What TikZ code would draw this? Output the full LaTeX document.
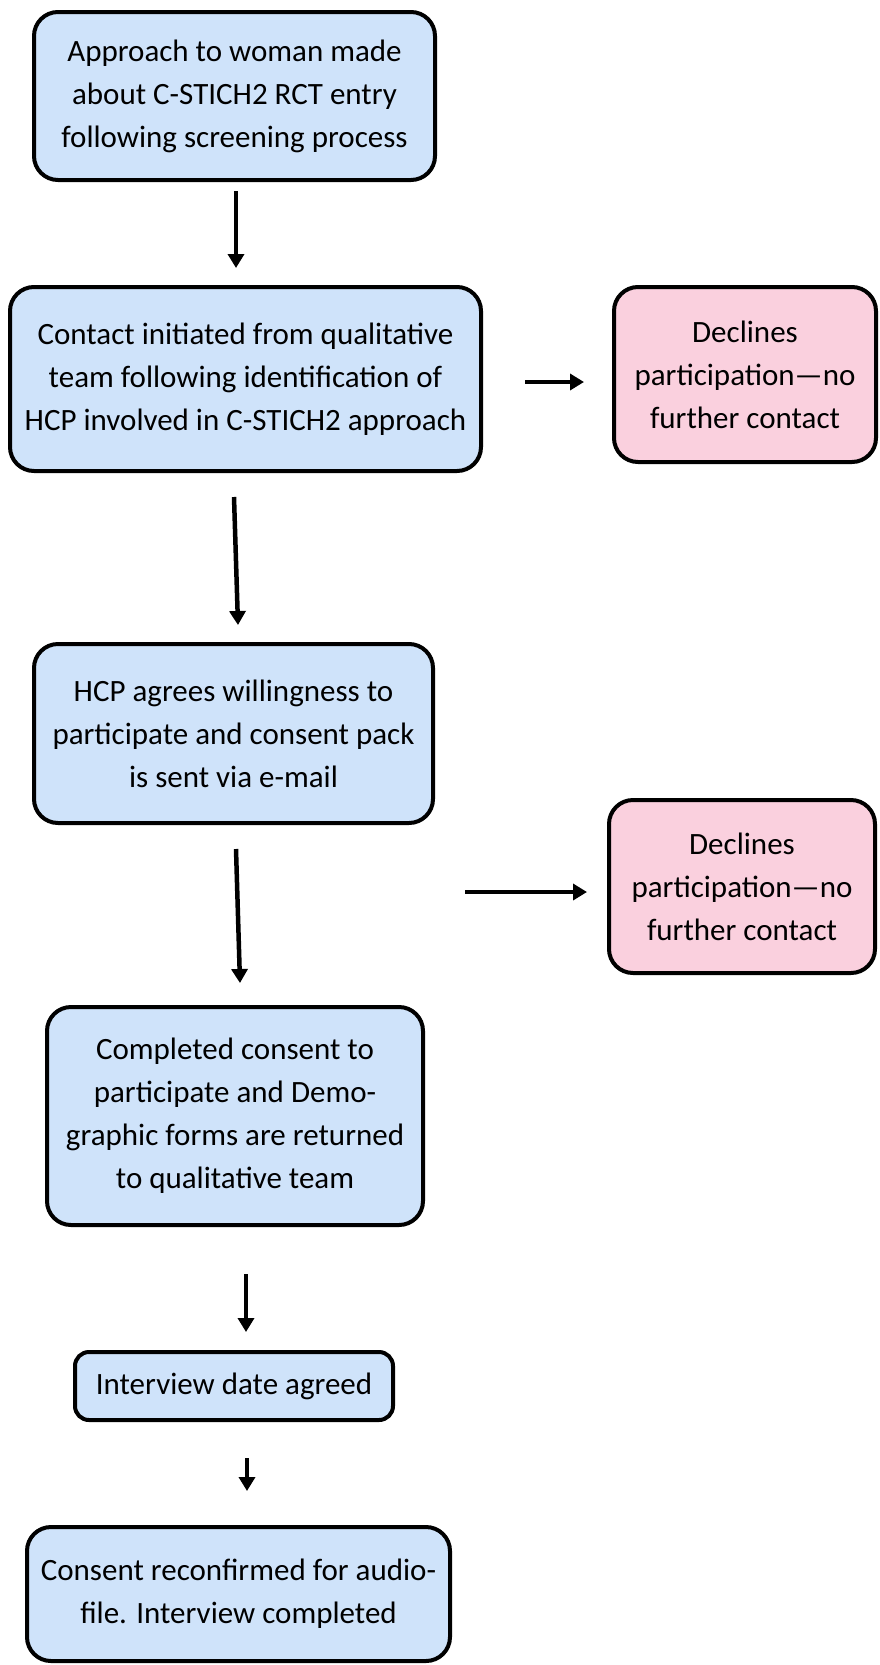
\documentclass[tikz,border=0pt]{standalone}
\usepackage{fontspec}
\setmainfont{Carlito}
\usepackage{tikz}
\usetikzlibrary{arrows.meta}
\definecolor{StepBlue}{RGB}{207,227,250}
\definecolor{DeclinePink}{RGB}{250,208,222}
\tikzset{
  flownode/.style = {align=center, inner sep=0pt, text centered, draw = black, line width=4pt, rounded corners=24pt, font=\fontsize{31}{43}\selectfont},
  StepNode/.style = {flownode, fill = StepBlue},
  DeclineNode/.style = {flownode, fill = DeclinePink},
  flowarrow/.style = {line width=4.5pt, -{Triangle[width=16pt,length=14pt]}}
}
\begin{document}
\begin{tikzpicture}[x=1pt,y=-1pt]
    \useasboundingbox (0,0) rectangle (879,1665);
    % main steps
    \node [StepNode, minimum width=401pt, minimum height=168pt] (approach) at (234.5,96)
        {Approach to woman made\\about C-STICH2 RCT entry\\following screening process};
    \node [StepNode, minimum width=471pt, minimum height=184pt] (contact) at (245.5,379)
        {Contact initiated from qualitative\\team following identification of\\HCP involved in C-STICH2 approach};
    \node [StepNode, minimum width=399pt, minimum height=179pt] (agrees) at (233.5,733.5)
        {HCP agrees willingness to\\participate and consent pack\\is sent via e-mail};
    \node [StepNode, minimum width=376pt, minimum height=218pt] (returned) at (235,1116)
        {Completed consent to\\participate and Demo-\\graphic forms are returned\\to qualitative team};
    \node [StepNode, rounded corners=14pt, minimum width=318pt, minimum height=68pt] (date) at (234,1386)
        {Interview date agreed};
    \node [StepNode, minimum width=423pt, minimum height=134pt] (done) at (238.5,1594)
        {Consent reconfirmed for audio-\\file. Interview completed};
    % declines
    \node [DeclineNode, minimum width=262pt, minimum height=175pt] (declineA) at (745,374.5)
        {Declines\\participation---no\\further contact};
    \node [DeclineNode, minimum width=266pt, minimum height=173pt] (declineB) at (742,886.5)
        {Declines\\participation---no\\further contact};
    % arrow ends
    \coordinate (a1s) at (236,191);  \coordinate (a1e) at (236,268);
    \coordinate (a2s) at (234,497);  \coordinate (a2e) at (238,625);
    \coordinate (a3s) at (236,849);  \coordinate (a3e) at (240,983);
    \coordinate (a4s) at (246,1274); \coordinate (a4e) at (246,1332);
    \coordinate (a5s) at (247,1458); \coordinate (a5e) at (247,1491);
    \coordinate (r1s) at (525,382);  \coordinate (r1e) at (584,382);
    \coordinate (r2s) at (465,892);  \coordinate (r2e) at (587,892);
    \draw [flowarrow] (a1s) -- (a1e);
    \draw [flowarrow] (a2s) -- (a2e);
    \draw [flowarrow] (a3s) -- (a3e);
    \draw [flowarrow] (a4s) -- (a4e);
    \draw [flowarrow] (a5s) -- (a5e);
    \draw [flowarrow] (r1s) -- (r1e);
    \draw [flowarrow] (r2s) -- (r2e);
\end{tikzpicture}
\end{document}
